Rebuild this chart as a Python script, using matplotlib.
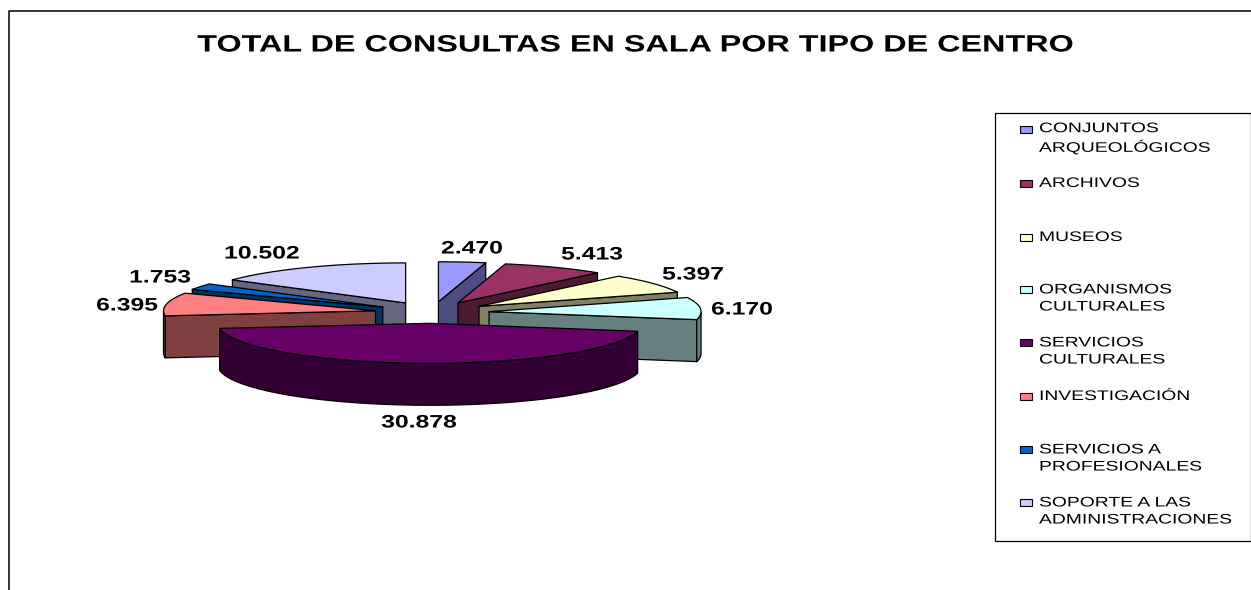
import numpy as np
import matplotlib
matplotlib.use("Agg")
import matplotlib.pyplot as plt
from matplotlib.patches import Polygon, Rectangle
from matplotlib.colors import to_rgb
from matplotlib.patheffects import AbstractPathEffect
from matplotlib.transforms import Affine2D

categories = ["CONJUNTOS\nARQUEOLÓGICOS", "ARCHIVOS", "MUSEOS", "ORGANISMOS\nCULTURALES",
              "SERVICIOS\nCULTURALES", "INVESTIGACIÓN", "SERVICIOS A\nPROFESIONALES",
              "SOPORTE A LAS\nADMINISTRACIONES"]
values = [2470, 5413, 5397, 6170, 30878, 6395, 1753, 10502]
value_labels = ["2.470", "5.413", "5.397", "6.170", "30.878", "6.395", "1.753", "10.502"]
colors = ["#9999FF", "#993366", "#FFFFCC", "#CCFFFF", "#660066", "#FF8080", "#0066CC", "#CCCCFF"]
title = "TOTAL DE CONSULTAS EN SALA POR TIPO DE CENTRO"

W, H = 1251, 590
CX, CY, RX, RY, DEPTH, EXPLODE = 432.0, 312.5, 212.0, 40.0, 42.0, 0.27
label_pos = [(472, 249), (592, 255), (693, 275), (742, 310), (419, 423), (127, 306), (160, 278), (262, 254)]
legend_y = [138, 183, 237, 298, 351, 396, 458, 511]
STRETCH = 1.37


class Widen(AbstractPathEffect):
    """Widen text about a fixed display x, as in the horizontally stretched original."""
    def __init__(self, x0, s=STRETCH):
        super().__init__()
        self.x0, self.s = x0, s

    def draw_path(self, renderer, gc, tpath, affine, rgbFace=None):
        t = affine + Affine2D().translate(-self.x0, 0).scale(self.s, 1).translate(self.x0, 0)
        renderer.draw_path(gc, tpath, t, rgbFace)


plt.rcParams["font.family"] = ["Liberation Sans", "DejaVu Sans"]
fig = plt.figure(figsize=(W / 100, H / 100), dpi=100)
ax = fig.add_axes([0, 0, 1, 1])
ax.set_xlim(0, W)
ax.set_ylim(H, 0)
ax.axis("off")

ax.plot([9.0, 9.0, W], [H, 11.0, 11.0], color="black", lw=1.1)
ax.text(636, 45, title, ha="center", va="center", fontsize=17, fontweight="bold",
        path_effects=[Widen(636)])

fr = np.array(values, float) / sum(values)
edges = np.concatenate([[0], np.cumsum(fr) * 2 * np.pi])


def pt(cx, cy, t):
    return cx + RX * np.sin(t), cy - RY * np.cos(t)


def draw_slice(i):
    a, b = edges[i], edges[i + 1]
    mid = (a + b) / 2
    cx = CX + EXPLODE * RX * np.sin(mid)
    cy = CY - EXPLODE * RY * np.cos(mid)
    col = colors[i]
    dark = tuple(c * 0.5 for c in to_rgb(col))
    kw = dict(edgecolor="black", lw=0.9, joinstyle="round")
    ts = np.linspace(a, b, 40)
    xs, ys = pt(cx, cy, ts)
    if np.sin(b) > 0:
        ex, ey = pt(cx, cy, b)
        ax.add_patch(Polygon([(cx, cy), (ex, ey), (ex, ey + DEPTH), (cx, cy + DEPTH)], facecolor=dark, **kw))
    if np.sin(a) < 0:
        ex, ey = pt(cx, cy, a)
        ax.add_patch(Polygon([(cx, cy), (ex, ey), (ex, ey + DEPTH), (cx, cy + DEPTH)], facecolor=dark, **kw))
    front = np.cos(ts) < 0
    if front.any():
        fx, fy = xs[front], ys[front]
        ax.add_patch(Polygon(np.r_[np.c_[fx, fy], np.c_[fx[::-1], fy[::-1] + DEPTH]], facecolor=dark, **kw))
    ax.add_patch(Polygon(np.r_[[(cx, cy)], np.c_[xs, ys]], facecolor=col, **kw))


for i in [0, 1, 2, 3, 7, 6, 5, 4]:
    draw_slice(i)

for (x, y), s in zip(label_pos, value_labels):
    ax.text(x, y, s, ha="center", va="center", fontsize=13, fontweight="bold",
            path_effects=[Widen(x)])

ax.add_patch(Rectangle((995, 112.5), 255.5, 428, facecolor="white", edgecolor="black", lw=0.9))
for y, c, s in zip(legend_y, colors, categories):
    first_y = y if "\n" not in s else y - 9
    ax.add_patch(Rectangle((1020, first_y - 3), 12, 7, facecolor=c, edgecolor="black", lw=0.8))
    ax.text(1039, y, s, ha="left", va="center", fontsize=10, linespacing=1.28,
            path_effects=[Widen(1039, 1.39)])

fig.savefig("out.png", dpi=100)
